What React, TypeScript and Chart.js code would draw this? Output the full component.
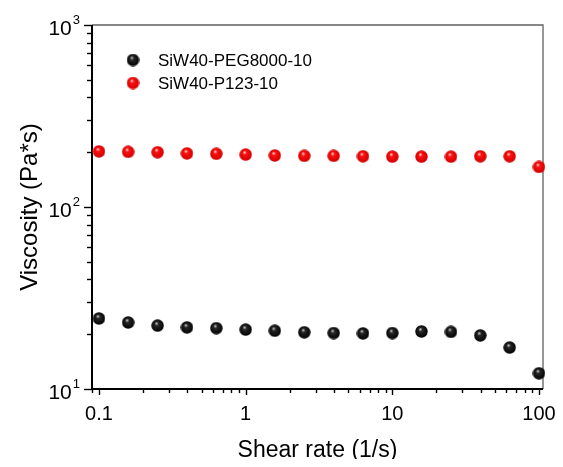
import React, { useEffect, useRef } from "react";
import { Chart, registerables } from "chart.js";

Chart.register(...registerables);

const shearRates = [0.1, 0.158, 0.251, 0.398, 0.631, 1, 1.58, 2.51, 3.98, 6.31, 10, 15.8, 25.1, 39.8, 63.1, 100];
const peg8000 = [24.4, 23.2, 22.3, 21.8, 21.6, 21.2, 20.9, 20.5, 20.3, 20.2, 20.3, 20.7, 20.6, 19.7, 16.9, 12.2];
const p123 = [202, 201, 200, 197, 196, 194, 192, 191, 191, 190, 189, 189, 189, 190, 190, 166];
const seriesNames = ["SiW40-PEG8000-10", "SiW40-P123-10"];
const xTickLabels = ["0.1", "1", "10", "100"];
const xTickValues = [0.1, 1, 10, 100];
const yTickValues = [10, 100, 1000];
const yTickExponents = ["1", "2", "3"];
const xTitle = "Shear rate (1/s)";
const yTitle = "Viscosity (Pa*s)";

const FONT = "'Liberation Sans', Arial, sans-serif";

function makeSphere(light: string, mid: string, dark: string, size: number) {
  const c = document.createElement("canvas");
  c.width = size;
  c.height = size;
  const ctx = c.getContext("2d")!;
  const r = size / 2;
  const g = ctx.createRadialGradient(r * 0.8, r * 0.62, 0, r, r, r);
  g.addColorStop(0, light);
  g.addColorStop(0.3, mid);
  g.addColorStop(1, dark);
  ctx.fillStyle = g;
  ctx.beginPath();
  ctx.arc(r, r, r - 0.3, 0, Math.PI * 2);
  ctx.fill();
  return c;
}

export default function App() {
  const ref = useRef<HTMLCanvasElement>(null);
  useEffect(() => {
    const blackSphere = makeSphere("#e0e0e0", "#262626", "#000000", 13);
    const redSphere = makeSphere("#ffffff", "#ff1010", "#cc0000", 13);
    const spheres = [blackSphere, redSphere];

    const customPlugin = {
      id: "custom",
      beforeDatasetsDraw(chart: any) {
        const ctx = chart.ctx as CanvasRenderingContext2D;
        const { left, right, top, bottom } = chart.chartArea;
        const xs = chart.scales.x;
        const ys = chart.scales.y;
        ctx.save();
        ctx.strokeStyle = "#606060";
        ctx.lineWidth = 1.3;
        ctx.beginPath();
        ctx.moveTo(left, top);
        ctx.lineTo(right, top);
        ctx.lineTo(right, bottom);
        ctx.stroke();
        ctx.strokeStyle = "#000";
        ctx.lineWidth = 1.4;
        for (let e = -2; e <= 3; e++) {
          for (let m = 1; m <= 9; m++) {
            const v = m * Math.pow(10, e);
            if (v >= xs.min && v <= xs.max) {
              const px = Math.round(xs.getPixelForValue(v)) + 0.5;
              const len = m === 1 ? 6 : 4;
              ctx.beginPath();
              ctx.moveTo(px, bottom);
              ctx.lineTo(px, bottom + len);
              ctx.stroke();
            }
            if (v >= ys.min && v <= ys.max) {
              const py = Math.round(ys.getPixelForValue(v)) + 0.5;
              const len = m === 1 ? 8 : 5;
              ctx.beginPath();
              ctx.moveTo(left, py);
              ctx.lineTo(left - len, py);
              ctx.stroke();
            }
          }
        }
        ctx.lineWidth = 2;
        ctx.beginPath();
        ctx.moveTo(left, top);
        ctx.lineTo(left, bottom);
        ctx.lineTo(right, bottom);
        ctx.stroke();
        ctx.restore();
      },
      afterDraw(chart: any) {
        const ctx = chart.ctx as CanvasRenderingContext2D;
        const { left, right, top, bottom } = chart.chartArea;
        const xs = chart.scales.x;
        const ys = chart.scales.y;
        ctx.save();
        ctx.fillStyle = "#000";
        ctx.font = `20px ${FONT}`;
        ctx.textAlign = "center";
        ctx.textBaseline = "alphabetic";
        xTickValues.forEach((v, i) => {
          ctx.fillText(xTickLabels[i], xs.getPixelForValue(v), bottom + 31);
        });
        yTickValues.forEach((v, i) => {
          const py = ys.getPixelForValue(v);
          ctx.textAlign = "right";
          ctx.font = `13px ${FONT}`;
          const supW = ctx.measureText(yTickExponents[i]).width;
          ctx.fillText(yTickExponents[i], left - 12, py - 1);
          ctx.font = `21px ${FONT}`;
          ctx.fillText("10", left - 12 - supW - 1, py + 10);
        });
        ctx.font = `23px ${FONT}`;
        ctx.textAlign = "center";
        ctx.fillText(xTitle, (left + right) / 2, bottom + 68);
        ctx.save();
        ctx.translate(22, (top + bottom) / 2);
        ctx.rotate(-Math.PI / 2);
        ctx.textBaseline = "middle";
        ctx.font = `24px ${FONT}`;
        ctx.fillText(yTitle, 0, 0);
        ctx.restore();
        ctx.font = `17px ${FONT}`;
        ctx.textAlign = "left";
        ctx.textBaseline = "middle";
        seriesNames.forEach((name, i) => {
          const cy = top + 35 + i * 23;
          const img = spheres[i];
          ctx.drawImage(img, left + 41 - img.width / 2, cy - img.height / 2);
          ctx.fillText(name, left + 66, cy + 1);
        });
        ctx.restore();
      },
    };

    const chart = new Chart(ref.current!, {
      type: "scatter",
      data: {
        datasets: [
          {
            label: seriesNames[0],
            data: shearRates.map((x, i) => ({ x, y: peg8000[i] })),
            pointStyle: blackSphere as any,
            clip: false as any,
          },
          {
            label: seriesNames[1],
            data: shearRates.map((x, i) => ({ x, y: p123[i] })),
            pointStyle: redSphere as any,
            clip: false as any,
          },
        ],
      },
      options: {
        animation: false,
        responsive: true,
        maintainAspectRatio: false,
        layout: { padding: { top: 17, right: 12, left: 0, bottom: 0 } },
        plugins: { legend: { display: false }, tooltip: { enabled: false } },
        scales: {
          x: {
            type: "logarithmic",
            min: 0.0896,
            max: 106.5,
            ticks: { display: false },
            grid: { display: false },
            border: { display: false },
            afterFit: (s: any) => {
              s.height = 70;
            },
          },
          y: {
            type: "logarithmic",
            min: 10,
            max: 1000,
            ticks: { display: false },
            grid: { display: false },
            border: { display: false },
            afterFit: (s: any) => {
              s.width = 84;
            },
          },
        },
      },
      plugins: [customPlugin],
    });
    return () => chart.destroy();
  }, []);
  return (
    <div style={{ width: 547, height: 451, position: "relative" }}>
      <canvas ref={ref} />
    </div>
  );
}
